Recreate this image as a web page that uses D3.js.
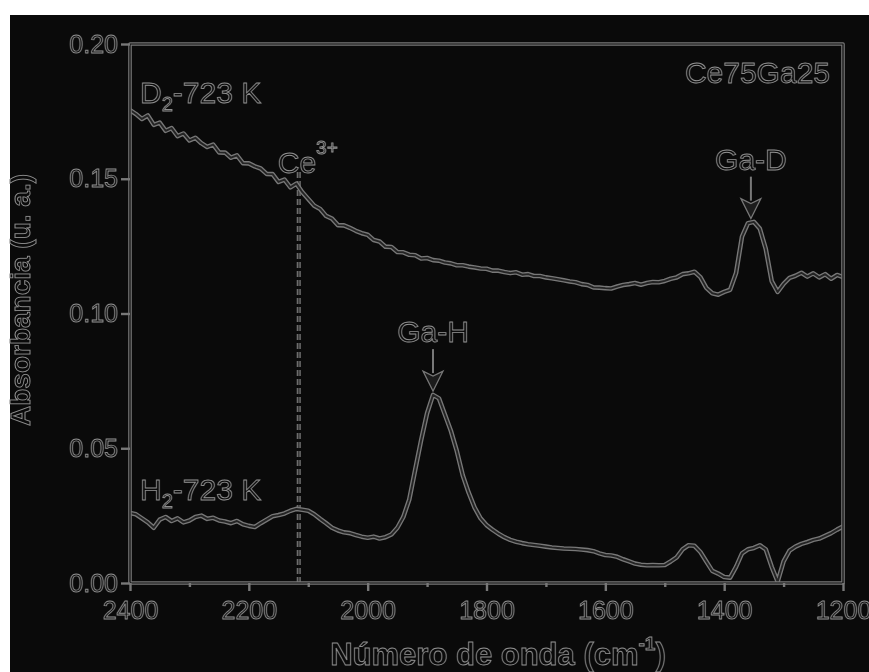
<!DOCTYPE html>
<html>
<head>
<meta charset="utf-8">
<script src="https://cdn.jsdelivr.net/npm/d3@7"></script>
<style>
    body { margin: 0; background: #fff; }
    svg { filter: grayscale(100%); }
    text { font-family: "Liberation Sans", Arial, sans-serif; }
</style>
</head>
<body>
<div class="chart"></div>
<script>
// wavenumber grid (cm-1) shared by both spectra
const wavenumbers = [
    2400, 2390, 2380, 2370, 2360, 2350, 2340, 2330, 2320, 2310,
    2300, 2290, 2280, 2270, 2260, 2250, 2240, 2230, 2220, 2210,
    2200, 2190, 2180, 2170, 2160, 2150, 2140, 2130, 2120, 2110,
    2100, 2090, 2080, 2070, 2060, 2050, 2040, 2030, 2020, 2010,
    2000, 1990, 1980, 1970, 1960, 1950, 1940, 1930, 1920, 1910,
    1900, 1890, 1880, 1870, 1860, 1850, 1840, 1830, 1820, 1810,
    1800, 1790, 1780, 1770, 1760, 1750, 1740, 1730, 1720, 1710,
    1700, 1690, 1680, 1670, 1660, 1650, 1640, 1630, 1620, 1610,
    1600, 1590, 1580, 1570, 1560, 1550, 1540, 1530, 1520, 1510,
    1500, 1490, 1480, 1470, 1460, 1450, 1440, 1430, 1420, 1410,
    1400, 1390, 1380, 1370, 1360, 1350, 1340, 1330, 1320, 1310,
    1300, 1290, 1280, 1270, 1260, 1250, 1240, 1230, 1220, 1210,
    1200
];

const d2Values = [
    0.1755, 0.1740, 0.1722, 0.1735, 0.1700, 0.1708, 0.1678, 0.1688, 0.1658, 0.1668,
    0.1642, 0.1652, 0.1632, 0.1618, 0.1627, 0.1598, 0.1597, 0.1578, 0.1587, 0.1558,
    0.1557, 0.1546, 0.1538, 0.1518, 0.1517, 0.1488, 0.1497, 0.1468, 0.1482, 0.1450,
    0.1425, 0.1400, 0.1388, 0.1362, 0.1352, 0.1328, 0.1327, 0.1318, 0.1307, 0.1298,
    0.1292, 0.1273, 0.1267, 0.1248, 0.1247, 0.1228, 0.1227, 0.1218, 0.1216, 0.1204,
    0.1206, 0.1198, 0.1196, 0.1189, 0.1186, 0.1179, 0.1179, 0.1174, 0.1171, 0.1167,
    0.1166, 0.1159, 0.1159, 0.1154, 0.1150, 0.1153, 0.1144, 0.1146, 0.1139, 0.1139,
    0.1134, 0.1131, 0.1127, 0.1123, 0.1119, 0.1116, 0.1109, 0.1106, 0.1097, 0.1096,
    0.1094, 0.1093, 0.1100, 0.1106, 0.1109, 0.1113, 0.1107, 0.1113, 0.1117, 0.1116,
    0.1121, 0.1129, 0.1134, 0.1146, 0.1149, 0.1155, 0.1135, 0.1095, 0.1075, 0.1070,
    0.1080, 0.1088, 0.1150, 0.1285, 0.1335, 0.1340, 0.1315, 0.1240, 0.1120, 0.1080,
    0.1110, 0.1132, 0.1140, 0.1151, 0.1137, 0.1149, 0.1134, 0.1146, 0.1129, 0.1143,
    0.1135
];

const h2Values = [
    0.0260, 0.0255, 0.0240, 0.0225, 0.0205, 0.0235, 0.0245, 0.0230, 0.0240, 0.0225,
    0.0232, 0.0245, 0.0250, 0.0238, 0.0242, 0.0232, 0.0228, 0.0222, 0.0230, 0.0218,
    0.0212, 0.0208, 0.0222, 0.0235, 0.0248, 0.0252, 0.0258, 0.0268, 0.0275, 0.0272,
    0.0268, 0.0255, 0.0238, 0.0222, 0.0205, 0.0195, 0.0188, 0.0185, 0.0178, 0.0172,
    0.0168, 0.0172, 0.0165, 0.0170, 0.0180, 0.0205, 0.0245, 0.0310, 0.0420, 0.0530,
    0.0630, 0.0698, 0.0685, 0.0625, 0.0565, 0.0490, 0.0400, 0.0335, 0.0280, 0.0240,
    0.0215, 0.0198, 0.0183, 0.0170, 0.0160, 0.0153, 0.0148, 0.0144, 0.0141, 0.0138,
    0.0135, 0.0132, 0.0130, 0.0128, 0.0127, 0.0126, 0.0124, 0.0122, 0.0118, 0.0110,
    0.0104, 0.0102, 0.0097, 0.0088, 0.0080, 0.0072, 0.0068, 0.0066, 0.0067, 0.0066,
    0.0067, 0.0080, 0.0095, 0.0125, 0.0140, 0.0138, 0.0115, 0.0080, 0.0045, 0.0035,
    0.0022, 0.0020, 0.0060, 0.0110, 0.0125, 0.0130, 0.0140, 0.0125, 0.0060, 0.0005,
    0.0080, 0.0120, 0.0135, 0.0145, 0.0152, 0.0160, 0.0165, 0.0175, 0.0185, 0.0198,
    0.0210
];

const xMajorTicks = [2400, 2200, 2000, 1800, 1600, 1400, 1200];
const xMinorTicks = [2300, 2100, 1900, 1700, 1500, 1300];
const yTicks = [0.00, 0.05, 0.10, 0.15, 0.20];

const ce3Position = 2116;
const peakArrows = [
    { label: 'Ga-H', wn: 1890, value: 0.0712 },
    { label: 'Ga-D', wn: 1355, value: 0.1352 }
];

const W = 869, H = 672;
const margin = { top: 44, left: 130, right: 26, bottom: 89 };
const bg = '#0a0a0a';
const lineGray = '#787878';
const textGray = '#8e8e8e';

const svg = d3.select('.chart').append('svg')
    .attr('width', W)
    .attr('height', H);

svg.append('rect')
    .attr('x', 10).attr('y', 15)
    .attr('width', W - 10).attr('height', H - 15)
    .attr('fill', bg);

const x = d3.scaleLinear().domain([2400, 1200]).range([margin.left, W - margin.right]);
const y = d3.scaleLinear().domain([0, 0.20]).range([H - margin.bottom, margin.top]);

// hollow looking text, like the reference
function outlined(sel, size) {
    return sel.attr('fill', bg)
        .attr('stroke', textGray)
        .attr('stroke-width', 0.9)
        .style('font-size', size + 'px');
}

// double stroke: wide gray under a thin dark core
function hollowPath(d, wide, core, dash, coreColor) {
    const a = svg.append('path').attr('d', d).attr('fill', 'none')
        .attr('stroke', lineGray).attr('stroke-width', wide)
        .attr('stroke-linejoin', 'round');
    const b = svg.append('path').attr('d', d).attr('fill', 'none')
        .attr('stroke', coreColor || bg).attr('stroke-width', core)
        .attr('stroke-linejoin', 'round');
    if (dash) {
        a.attr('stroke-dasharray', dash);
        b.attr('stroke-dasharray', dash);
    }
}

// dashed Ce3+ marker
hollowPath(d3.line()([[x(ce3Position), 172], [x(ce3Position), y(0)]]), 4, 1.8, '6,3', '#3a3a3a');

// spectra
const line = d3.line()
    .x(function (d) { return x(d[0]); })
    .y(function (d) { return y(d[1]); });

const d2Data = wavenumbers.map(function (w, i) { return [w, d2Values[i]]; });
const h2Data = wavenumbers.map(function (w, i) { return [w, h2Values[i]]; });

hollowPath(line(h2Data), 4.6, 1.9, null, '#242424');
hollowPath(line(d2Data), 4.6, 1.9, null, '#242424');

// frame
const x0 = x(2400), x1 = x(1200), y0 = y(0), y1 = y(0.20);
hollowPath('M' + x0 + ',' + y0 + 'V' + y1 + 'H' + x1 + 'V' + y0 + 'Z', 3.6, 1.2);

// axes
const xAxis = svg.append('g')
    .attr('transform', 'translate(0,' + y0 + ')')
    .call(d3.axisBottom(x).tickValues(xMajorTicks).tickSize(8).tickPadding(10)
        .tickFormat(d3.format('d')));

const xMinor = svg.append('g')
    .attr('transform', 'translate(0,' + y0 + ')')
    .call(d3.axisBottom(x).tickValues(xMinorTicks).tickSize(4).tickFormat(''));

const yAxis = svg.append('g')
    .attr('transform', 'translate(' + x0 + ',0)')
    .call(d3.axisLeft(y).tickValues(yTicks).tickSize(9).tickPadding(3)
        .tickFormat(d3.format('.2f')));

[xAxis, xMinor, yAxis].forEach(function (g) {
    g.select('.domain').remove();
    g.selectAll('line').attr('stroke', lineGray).attr('stroke-width', 2.4);
    g.selectAll('text').call(outlined, 25)
        .style('font-family', '"Liberation Sans", Arial, sans-serif');
});

// axis titles (bold in the reference)
const xTitle = svg.append('text')
    .attr('x', 498)
    .attr('y', 665)
    .attr('text-anchor', 'middle')
    .style('font-weight', 'bold')
    .call(outlined, 31);
xTitle.append('tspan').text('Número de onda (cm');
xTitle.append('tspan').attr('dy', -15).style('font-size', '19px').text('-1');
xTitle.append('tspan').attr('dy', 15).text(')');

svg.append('text')
    .attr('transform', 'translate(30,300) rotate(-90)')
    .attr('text-anchor', 'middle')
    .style('font-weight', 'bold')
    .call(outlined, 28)
    .text('Absorbancia (u. a.)');

// labels
svg.append('text')
    .attr('x', x1 - 13).attr('y', 83)
    .attr('text-anchor', 'end')
    .call(outlined, 30)
    .text('Ce75Ga25');

function gasLabel(gas, yy) {
    const t = svg.append('text').attr('x', 140).attr('y', yy).call(outlined, 30);
    t.append('tspan').text(gas);
    t.append('tspan').attr('dy', 8).style('font-size', '20px').text('2');
    t.append('tspan').attr('dy', -8).text('-723 K');
}
gasLabel('D', 103);
gasLabel('H', 500);

const ceLabel = svg.append('text')
    .attr('x', x(ce3Position) - 21).attr('y', 173)
    .call(outlined, 30);
ceLabel.append('tspan').text('Ce');
ceLabel.append('tspan').attr('dy', -19).style('font-size', '19px').text('3+');

// peak arrows
peakArrows.forEach(function (p) {
    const ax = x(p.wn);
    const tip = y(p.value);
    const headLen = 20, headW = 10, shaft = 42;
    svg.append('line')
        .attr('x1', ax).attr('x2', ax)
        .attr('y1', tip - shaft).attr('y2', tip - headLen + 2)
        .attr('stroke', lineGray).attr('stroke-width', 2);
    svg.append('path')
        .attr('d', 'M' + (ax - headW) + ',' + (tip - headLen) + 'L' + ax + ',' + tip +
            'L' + (ax + headW) + ',' + (tip - headLen) + 'L' + ax + ',' + (tip - headLen + 5) + 'Z')
        .attr('fill', '#1c1c1c')
        .attr('stroke', lineGray).attr('stroke-width', 1.2);
    svg.append('text')
        .attr('x', ax).attr('y', tip - shaft - 7)
        .attr('text-anchor', 'middle')
        .call(outlined, 30)
        .text(p.label);
});
</script>
</body>
</html>
